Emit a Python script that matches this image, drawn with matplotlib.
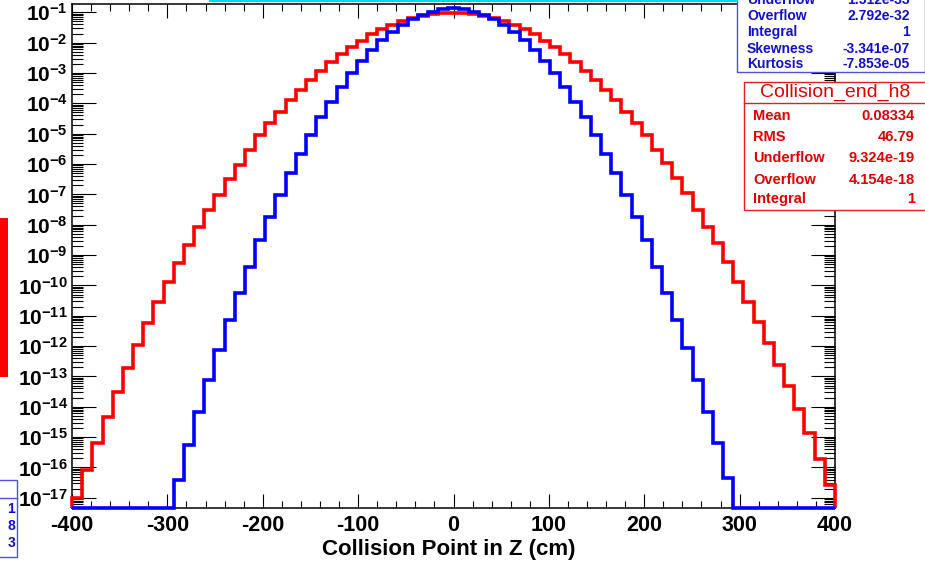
import numpy as np
import matplotlib.pyplot as plt
from matplotlib.patches import Rectangle
from matplotlib.lines import Line2D
from matplotlib.ticker import MultipleLocator, LogLocator, FuncFormatter, NullFormatter

plt.rcParams['font.family'] = ['Liberation Sans', 'DejaVu Sans']
plt.rcParams['axes.unicode_minus'] = False
plt.rcParams['mathtext.fontset'] = 'custom'
plt.rcParams['mathtext.rm'] = 'Liberation Sans:bold'
plt.rcParams['mathtext.it'] = 'Liberation Sans:bold'
plt.rcParams['mathtext.bf'] = 'Liberation Sans:bold'

# Histogram: 75 bins from -400 to 400 cm, contents normalised to integral 1
z_min, z_max, n_bins = -400, 400, 75

# Collision_end_h8 (red, wide)
red_vals = [9.8e-18, 8.1e-17, 6.3e-16, 4.6e-15, 3.1e-14, 1.9e-13, 1.07e-12, 5.8e-12, 2.8e-11, 1.29e-10,
            5.5e-10, 2.1e-9, 8.3e-9, 3.0e-8, 9.5e-8, 3.3e-7, 9.6e-7, 2.9e-6, 9.1e-6, 2.2e-5,
            5.1e-5, 1.29e-4, 2.8e-4, 5.9e-4, 1.17e-3, 2.3e-3, 4.3e-3, 7.2e-3, 1.12e-2, 1.9e-2,
            2.8e-2, 3.8e-2, 5.1e-2, 6.5e-2, 7.6e-2, 8.7e-2, 9.7e-2, 9.8e-2, 9.6e-2, 8.7e-2,
            7.6e-2, 6.5e-2, 5.1e-2, 3.8e-2, 2.8e-2, 1.9e-2, 1.12e-2, 7.2e-3, 4.3e-3, 2.3e-3,
            1.17e-3, 5.9e-4, 2.8e-4, 1.29e-4, 5.1e-5, 2.2e-5, 9.1e-6, 2.9e-6, 1.07e-6, 3.5e-7,
            1.1e-7, 3.0e-8, 8.3e-9, 2.5e-9, 5.9e-10, 1.29e-10, 2.8e-11, 6.2e-12, 1.26e-12, 2.4e-13,
            4.8e-14, 8.4e-15, 1.36e-15, 1.9e-16, 2.6e-17]

# narrower distribution (blue); empty bins are 0
blue_vals = [0, 0, 0, 0, 0, 0, 0, 0, 0, 0,
             3.8e-17, 5.5e-16, 6.7e-15, 7.6e-14, 7.4e-13, 7.2e-12, 5.6e-11, 4.0e-10, 3.1e-9, 1.8e-8,
             9.5e-8, 5.0e-7, 2.1e-6, 9.0e-6, 3.5e-5, 1.1e-4, 3.5e-4, 1.0e-3, 2.5e-3, 5.7e-3,
             1.22e-2, 2.2e-2, 3.8e-2, 6.0e-2, 8.2e-2, 1.05e-1, 1.26e-1, 1.35e-1, 1.26e-1, 1.05e-1,
             8.2e-2, 6.0e-2, 3.8e-2, 2.2e-2, 1.22e-2, 5.7e-3, 2.5e-3, 1.0e-3, 3.5e-4, 1.1e-4,
             3.5e-5, 9.0e-6, 2.1e-6, 5.0e-7, 9.5e-8, 1.8e-8, 3.1e-9, 4.0e-10, 5.6e-11, 7.2e-12,
             8.6e-13, 7.6e-14, 6.7e-15, 6.3e-16, 4.5e-17, 0, 0, 0, 0, 0,
             0, 0, 0, 0, 0]

# stat boxes
blue_stat_labels = ['Underflow', 'Overflow', 'Integral', 'Skewness', 'Kurtosis']
blue_stat_values = ['1.512e-33', '2.792e-32', '1', '-3.341e-07', '-7.853e-05']
red_title = 'Collision_end_h8'
red_stat_labels = ['Mean', 'RMS', 'Underflow', 'Overflow', 'Integral']
red_stat_values = ['0.08334', '46.79', '9.324e-19', '4.154e-18', '1']

W, H = 925, 561
ymin, ymax = 4.6e-18, 0.188


def fx(px):
    return px / W


def fy(py):
    return 1 - py / H


fig = plt.figure(figsize=(W / 100, H / 100), dpi=100)
ax = fig.add_axes([fx(72), fy(508), 763 / W, 504 / H])

edges = np.linspace(z_min, z_max, n_bins + 1)
red = np.array(red_vals)
blue = np.array(blue_vals)
ax.stairs(np.where(red > 0, red, ymin), edges, baseline=ymin, color='#ff0000', lw=2.6,
          clip_on=False, zorder=3)
ax.stairs(np.where(blue > 0, blue, ymin), edges, baseline=ymin, color='#0000ff', lw=2.6,
          clip_on=False, zorder=4)

ax.set_yscale('log')
ax.set_xlim(z_min, z_max)
ax.set_ylim(ymin, ymax)

ax.set_yticks([10.0 ** k for k in range(-17, 0)])
ax.yaxis.set_minor_locator(LogLocator(base=10, subs=np.arange(2, 10), numticks=100))
ax.yaxis.set_minor_formatter(NullFormatter())
ax.yaxis.set_major_formatter(FuncFormatter(lambda v, p: r'$10^{%d}$' % round(np.log10(v))))
ax.xaxis.set_major_locator(MultipleLocator(100))
ax.xaxis.set_minor_locator(MultipleLocator(20))

ax.tick_params(axis='both', which='both', direction='in', top=True, right=True, width=0.8)
ax.tick_params(axis='y', which='major', length=17, pad=3, labelsize=15)
ax.tick_params(axis='y', which='minor', length=8)
ax.tick_params(axis='x', which='major', length=10, pad=5, labelsize=15.5)
ax.tick_params(axis='x', which='minor', length=5)
for lab in ax.get_xticklabels():
    lab.set_fontweight('bold')
for s in ax.spines.values():
    s.set_linewidth(1.1)

ax.set_xlabel('Collision Point in Z (cm)', fontsize=16, fontweight='bold')
ax.xaxis.set_label_coords((449 - 72) / 763, -(549 - 508) / 504)
ax.xaxis.label.set_va('center')

# cyan edge of the (cut off) title box
fig.lines.append(Line2D([fx(210), fx(737)], [fy(1), fy(1)], transform=fig.transFigure,
                        color='#00d8ea', lw=1.5, zorder=6))

# blue stat box (top cut off)
fig.patches.append(Rectangle((fx(737), fy(72)), (W - 737) / W, 80 / H, transform=fig.transFigure,
                             fc='white', ec='#5050e0', lw=1, zorder=5))
for lab, val, y in zip(blue_stat_labels, blue_stat_values, [0, 16, 32, 49, 64]):
    fig.text(fx(747), fy(y), lab, color='#1010d0', fontsize=10, fontweight='bold',
             va='center', ha='left', zorder=7)
    fig.text(fx(910), fy(y), val, color='#1010d0', fontsize=10, fontweight='bold',
             va='center', ha='right', zorder=7)

# red stat box
fig.patches.append(Rectangle((fx(744), fy(210)), (W - 744 + 5) / W, 128 / H,
                             transform=fig.transFigure, fc='white', ec='#e02020', lw=1, zorder=5))
fig.lines.append(Line2D([fx(744), fx(W)], [fy(103), fy(103)], transform=fig.transFigure,
                        color='#e02020', lw=1, zorder=6))
fig.text(fx(835), fy(92), red_title, color='#e00000', fontsize=14, va='center', ha='center', zorder=7)
for lab, val, y in zip(red_stat_labels, red_stat_values, [116, 137, 158, 180, 199]):
    fig.text(fx(753), fy(y), lab, color='#e00000', fontsize=10.5, fontweight='bold',
             va='center', ha='left', zorder=7)
    fig.text(fx(915), fy(y), val, color='#e00000', fontsize=10.5, fontweight='bold',
             va='center', ha='right', zorder=7)

# pieces of other pads at the left edge
fig.patches.append(Rectangle((fx(0), fy(377)), 8 / W, 159 / H, transform=fig.transFigure,
                             fc='#ff0000', ec='none', zorder=5))
fig.patches.append(Rectangle((fx(-10), fy(557)), 27 / W, 77 / H, transform=fig.transFigure,
                             fc='white', ec='#5050e0', lw=1, zorder=5))
fig.lines.append(Line2D([fx(0), fx(17)], [fy(498), fy(498)], transform=fig.transFigure,
                        color='#5050e0', lw=1, zorder=6))
for ch, y in zip(['1', '8', '3'], [509, 526, 543]):
    fig.text(fx(15), fy(y), ch, color='#1010d0', fontsize=10, fontweight='bold',
             va='center', ha='right', zorder=7)

fig.savefig('out.png', dpi=100)
